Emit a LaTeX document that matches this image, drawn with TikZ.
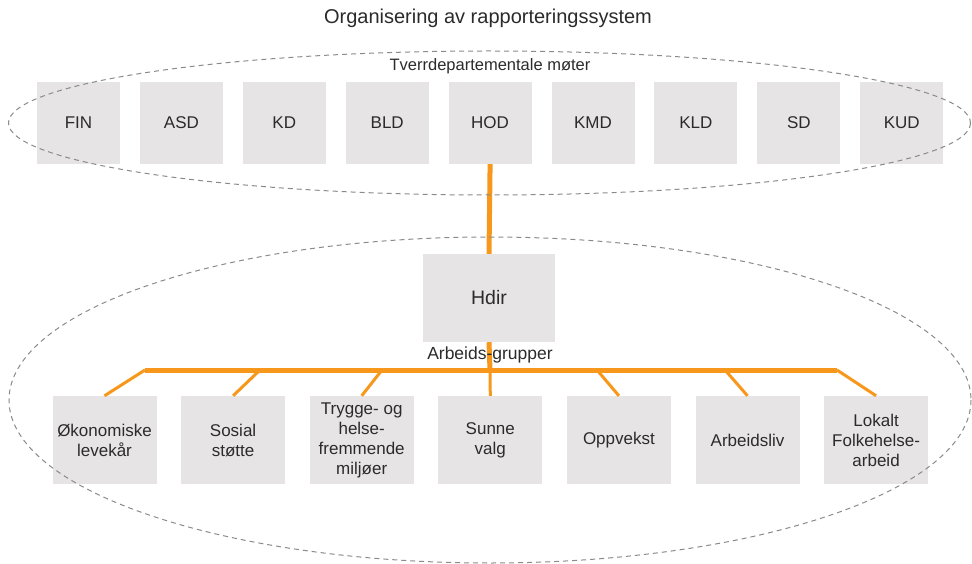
\documentclass[tikz,border=0pt]{standalone}
\usepackage{fontspec}
\setmainfont{Liberation Sans}
\definecolor{boxgray}{HTML}{E6E4E5}
\definecolor{linkorange}{HTML}{F7981D}
\definecolor{ringgray}{HTML}{8A8A8A}
\definecolor{textgray}{HTML}{2B2B2B}
\begin{document}
\begin{tikzpicture}[x=1pt,y=-1pt,dept/.style={shape=rectangle,fill=boxgray,text=textgray,minimum width=83pt,minimum height=82pt,inner sep=0pt,font=\fontsize{17}{20}\selectfont},group/.style={dept,minimum width=104pt,minimum height=88pt,align=center},ring/.style={draw=ringgray,line width=1pt,dash pattern=on 5pt off 4pt},link/.style={draw=linkorange,line width=3pt},linkB/.style={link,line width=5pt}]
\def\dxa{102.9};
\def\dxb{128.6};
\def\ya{123};
\def\yb{440};
\def\yc{370};

\useasboundingbox (0,0) rectangle (972,564);

\node[text=textgray,font=\fontsize{20}{22}\selectfont] (title) at (488,18) {Organisering av rapporteringssystem};

% departementene
\node[dept] (FIN) at (78.5,\ya) {FIN};
\node[dept] (ASD) at (78.5+\dxa,\ya) {ASD};
\node[dept] (KD) at (78.5+2*\dxa,\ya) {KD};
\node[dept] (BLD) at (78.5+3*\dxa,\ya) {BLD};
\node[dept] (HOD) at (78.5+4*\dxa,\ya) {HOD};
\node[dept] (KMD) at (78.5+5*\dxa,\ya) {KMD};
\node[dept] (KLD) at (78.5+6*\dxa,\ya) {KLD};
\node[dept] (SD) at (78.5+7*\dxa,\ya) {SD};
\node[dept] (KUD) at (78.5+8*\dxa,\ya) {KUD};
\node[text=textgray,font=\fontsize{16.5}{18}\selectfont] (tdm) at (490,66) {Tverrdepartementale møter};

\node[dept,minimum width=132pt,minimum height=88pt,font=\fontsize{19.5}{22}\selectfont] (Hdir) at (489,298) {Hdir};

% arbeidsgrupper
\node[group] (Okon) at (104.5,\yb) {Økonomiske\\levekår};
\node[group] (Sosial) at (104.5+\dxb,\yb) {Sosial\\støtte};
\node[group] (Trygge) at (104.5+2*\dxb,\yb) {Trygge- og\\helse-\\fremmende\\miljøer};
\node[group] (Sunne) at (104.5+3*\dxb,\yb) {Sunne\\valg};
\node[group] (Oppvekst) at (104.5+4*\dxb,\yb) {Oppvekst};
\node[group] (Arbeid) at (104.5+5*\dxb,\yb) {Arbeidsliv};
\node[group] (Lokalt) at (104.5+6*\dxb,\yb) {Lokalt\\Folkehelse-\\arbeid};

\coordinate (barL) at (145,\yc);
\coordinate (bar2) at (260,\yc);
\coordinate (bar3) at (382,\yc);
\coordinate (bar4) at (490,\yc);
\coordinate (bar5) at (597,\yc);
\coordinate (bar6) at (725,\yc);
\coordinate (barR) at (837,\yc);

\draw[linkB] (HOD.south) -- (Hdir.north);
\draw[linkB] (Hdir.south) -- (bar4);
\draw[linkB] (barL) -- (barR);
\draw[link] (barL) -- (Okon.north);
\draw[link] (bar2) -- (Sosial.north);
\draw[link] (bar3) -- (Trygge.north);
\draw[link] (bar4) -- (Sunne.north);
\draw[link] (bar5) -- (Oppvekst.north);
\draw[link] (bar6) -- (Arbeid.north);
\draw[link] (barR) -- (Lokalt.north);
\node[text=textgray,font=\fontsize{17.5}{19}\selectfont] (ag) at (490,355) {Arbeids-grupper};

\draw[ring] (489.5,123) ellipse [x radius=481,y radius=72];
\draw[ring] (490,400) ellipse [x radius=481,y radius=163];
\end{tikzpicture}
\end{document}
